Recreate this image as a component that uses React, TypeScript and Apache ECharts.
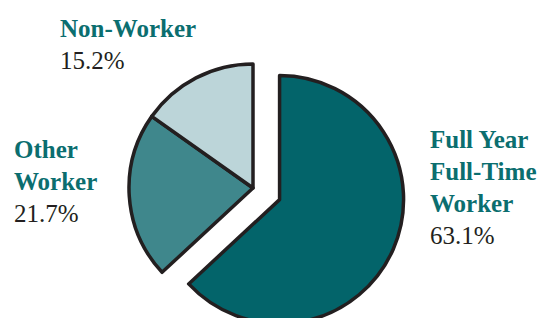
import React, { useEffect, useRef } from "react";
import * as echarts from "echarts";

const categories = ["Full Year\nFull-Time\nWorker", "Other\nWorker", "Non-Worker"];
const values = [63.1, 21.7, 15.2];
const colors = ["#03646a", "#3f878c", "#bcd5d9"];
const labelPositions = [
  [430, 123],
  [14, 133],
  [60, 12],
];

export default function App() {
  const ref = useRef<HTMLDivElement>(null);
  useEffect(() => {
    document.body.style.margin = "0";
    const chart = echarts.init(ref.current!, null, { renderer: "svg" });
    const rich = {
      n: {
        fontFamily: "Liberation Serif",
        fontWeight: "bold",
        fontSize: 25,
        lineHeight: 32,
        fill: "#0b6e6f",
      },
      v: {
        fontFamily: "Liberation Serif",
        fontSize: 25,
        lineHeight: 32,
        fill: "#231f20",
      },
    };
    chart.setOption({
      animation: false,
      backgroundColor: "#ffffff",
      graphic: categories.map((name, i) => ({
        type: "text",
        x: labelPositions[i][0],
        y: labelPositions[i][1],
        silent: true,
        style: {
          text:
            name
              .split("\n")
              .map((l) => `{n|${l}}`)
              .join("\n") + `\n{v|${values[i].toFixed(1)}%}`,
          rich,
          align: "left",
          verticalAlign: "top",
        },
      })),
      series: [
        {
          type: "pie",
          center: [253, 188],
          radius: 124,
          startAngle: 90,
          clockwise: true,
          selectedMode: "single",
          selectedOffset: 29,
          emphasis: { disabled: true },
          itemStyle: { borderColor: "#231f20", borderWidth: 3.5 },
          label: { show: false },
          labelLine: { show: false },
          data: categories.map((name, i) => ({
            name,
            value: values[i],
            selected: i === 0,
            itemStyle: { color: colors[i] },
          })),
        },
      ],
    });
    return () => chart.dispose();
  }, []);
  return <div ref={ref} style={{ width: 548, height: 318 }} />;
}
